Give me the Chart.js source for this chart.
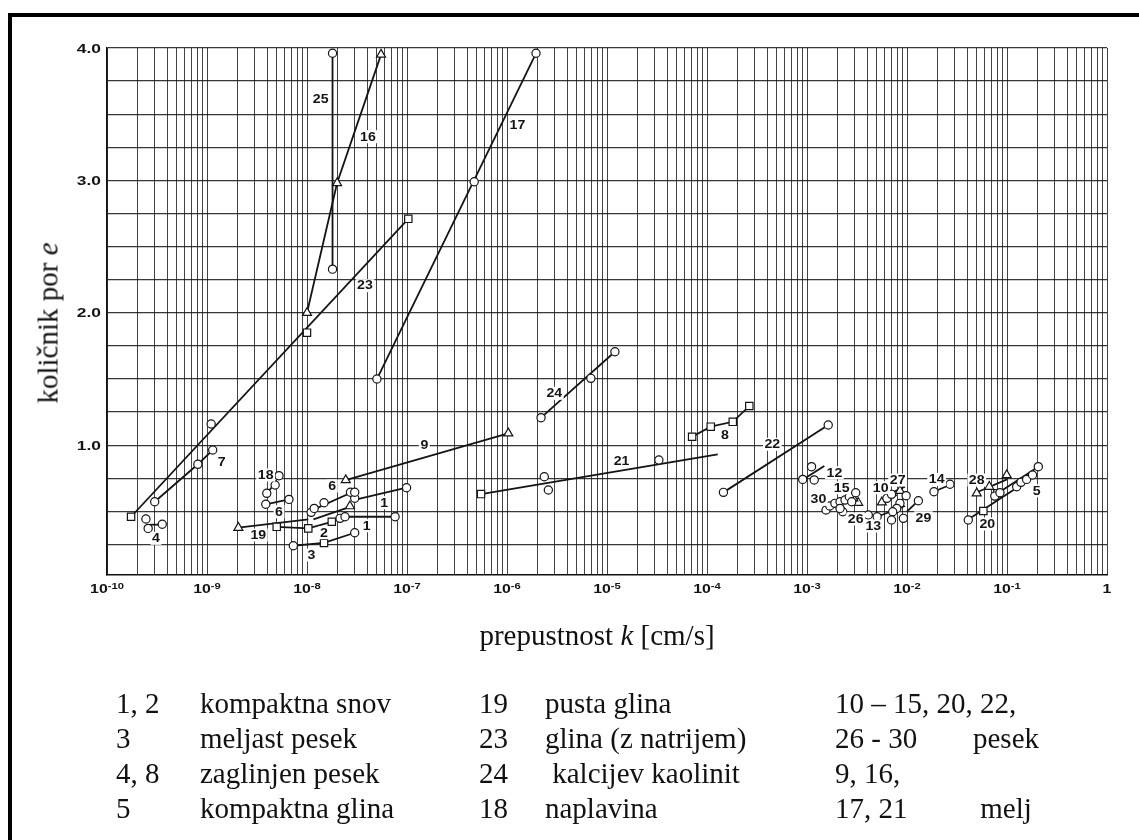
<!DOCTYPE html>
<html>
<head>
<meta charset="utf-8">
<script src="https://cdn.jsdelivr.net/npm/chart.js@4.4.1/dist/chart.umd.min.js"></script>
<style>
  html, body { margin: 0; padding: 0; background: #fff; }
  #page { position: relative; width: 1139px; height: 840px; overflow: hidden; background: #fff; }
  #chartBox { position: absolute; left: 0; top: 0; width: 1139px; height: 840px; }
  .rule { position: absolute; background: #000; }
  .serif { position: absolute; font-family: "Liberation Serif", "Times New Roman", serif; font-size: 29px;
           line-height: 29px; color: #111; white-space: pre; }
</style>
</head>
<body>
<div id="page">
  <div id="chartBox"><canvas id="c"></canvas></div>
  <div class="rule" style="left:8px;top:13px;width:1131px;height:4px"></div>
  <div class="rule" style="left:8px;top:13px;width:4px;height:827px"></div>
  <div id="yTitle" class="serif" style="left:48px;top:323px;transform:translate(-50%,-50%) rotate(-90deg)">količnik por <i>e</i></div>
  <div id="xTitle" class="serif" style="left:597px;top:621px;transform:translateX(-50%)">prepustnost <i>k</i> [cm/s]</div>
</div>
<script>
// ---- axes ----
const decades = [-10, -9, -8, -7, -6, -5, -4, -3, -2, -1, 0];   // x tick labels 10^n
const mantissas = [1, 2, 3, 4, 5, 6, 7, 8, 9];                   // log grid lines per decade
const yGrid = [0.25, 0.5, 0.75, 1.0, 1.25, 1.5, 1.75, 2.0, 2.25, 2.5, 2.75, 3.0, 3.25, 3.5, 3.75, 4.0];
const yLabels = ['1.0', '2.0', '3.0', '4.0'];
const yLabelValues = [1, 2, 3, 4];

// ---- measured curves: [k (cm/s), e] ----
const c25 = [[1.8e-8, 3.96], [1.8e-8, 2.33]];
const c16 = [[1.0e-8, 2.0], [2.0e-8, 2.98], [5.5e-8, 3.95]];
const c23line = [[1.74e-10, 0.46], [1.03e-7, 2.71]];
const c23sq = [[1.74e-10, 0.46], [1.0e-8, 1.85], [1.03e-7, 2.71]];
const c23o = [[1.1e-9, 1.16]];
const c17 = [[5.0e-8, 1.50], [4.7e-7, 2.99], [1.95e-6, 3.96]];
const c7 = [[3.0e-10, 0.573], [8.1e-10, 0.856], [1.14e-9, 0.964]];
const c4line = [[2.69e-10, 0.40], [3.39e-10, 0.40]];
const c4o = [[2.45e-10, 0.443], [2.58e-10, 0.372], [3.57e-10, 0.403]];
const c18a = [[4.2e-9, 0.66], [4.9e-9, 0.72]];
const c18b = [[3.87e-9, 0.554], [6.6e-9, 0.591]];
const c18o = [[5.25e-9, 0.77], [4.8e-9, 0.70], [3.96e-9, 0.637], [3.87e-9, 0.554], [6.6e-9, 0.591]];
const c6line = [[1.13e-8, 0.51], [2.9e-8, 0.649]];
const c6o = [[1.1e-8, 0.493], [1.18e-8, 0.523], [1.48e-8, 0.566], [2.72e-8, 0.645], [3.0e-8, 0.645]];
const c6bline = [[1.16e-8, 0.44], [2.69e-8, 0.535]];
const c6btri = [[2.69e-8, 0.54]];
const c1line = [[3.14e-8, 0.591], [9.9e-8, 0.679]];
const c1o = [[3.0e-8, 0.60], [9.9e-8, 0.679]];
const c1bline = [[2.4e-8, 0.46], [7.6e-8, 0.46]];
const c1bo = [[2.14e-8, 0.448], [2.4e-8, 0.46], [7.6e-8, 0.46]];
const c19line = [[2.06e-9, 0.377], [1.03e-8, 0.44]];
const c19tri = [[2.06e-9, 0.377]];
const c2 = [[4.98e-9, 0.384], [1.03e-8, 0.372], [1.77e-8, 0.422]];
const c3line = [[7.3e-9, 0.241], [1.48e-8, 0.262], [3.0e-8, 0.339]];
const c3o = [[7.3e-9, 0.241], [3.0e-8, 0.339]];
const c3sq = [[1.48e-8, 0.262]];
const c9 = [[2.44e-8, 0.737], [1.03e-6, 1.09]];
const c24 = [[2.19e-6, 1.208], [6.9e-6, 1.505], [1.2e-5, 1.706]];
const c21line = [[5.5e-7, 0.631], [1.28e-4, 0.931]];
const c21sq = [[5.5e-7, 0.631]];
const c21o = [[2.36e-6, 0.762], [2.59e-6, 0.662], [3.3e-5, 0.888]];
const c8 = [[7.1e-5, 1.064], [1.09e-4, 1.14], [1.81e-4, 1.177], [2.65e-4, 1.296]];
const c22 = [[1.46e-4, 0.644], [1.63e-3, 1.153]];
const c12line = [[9.55e-4, 0.75], [1.49e-3, 0.843]];
const c12o = [[9.06e-4, 0.742], [1.11e-3, 0.838], [1.18e-3, 0.738]];
const c14line = [[2.0e-2, 0.66], [2.5e-2, 0.69]];
const c14o = [[1.86e-2, 0.649], [2.69e-2, 0.705]];
const c30line = [[1.63e-3, 0.523], [3.16e-3, 0.637]];
const c15line = [[1.75e-3, 0.548], [2.9e-3, 0.585]];
const c15o = [[1.55e-3, 0.511], [1.69e-3, 0.541], [1.9e-3, 0.561], [2.14e-3, 0.573], [2.4e-3, 0.586],
              [2.65e-3, 0.611], [3.07e-3, 0.641], [2.8e-3, 0.573], [2.28e-3, 0.498], [2.14e-3, 0.523]];
const c15tri = [[3.25e-3, 0.566], [2.9e-3, 0.60]];
const c13line = [[5.03e-3, 0.46], [9.55e-3, 0.541]];
const c10line = [[5.8e-3, 0.573], [7.9e-3, 0.624]];
const c27line = [[6.8e-3, 0.637], [9.55e-3, 0.687]];
const c26line = [[8.2e-3, 0.498], [9.55e-3, 0.637]];
const c29line = [[9.98e-3, 0.498], [1.3e-2, 0.581]];
const c10o = [[4.1e-3, 0.473], [5.03e-3, 0.46], [6.3e-3, 0.599], [7.0e-3, 0.629], [9.8e-3, 0.619],
              [8.5e-3, 0.561], [7.9e-3, 0.523], [7.2e-3, 0.498], [9.2e-3, 0.448], [7.0e-3, 0.435], [1.3e-2, 0.581]];
const c10tri = [[5.6e-3, 0.569], [8.5e-3, 0.656]];
const c28line = [[5.16e-2, 0.649], [0.1, 0.742]];
const c28tri = [[4.98e-2, 0.637], [6.65e-2, 0.687], [9.93e-2, 0.775]];
const c5line = [[7.6e-2, 0.624], [0.2056, 0.838]];
const c5o = [[0.125, 0.687], [0.138, 0.72], [0.157, 0.742], [0.18, 0.775], [0.2056, 0.838]];
const c20line = [[4.27e-2, 0.448], [0.13, 0.687]];
const c20o = [[4.1e-2, 0.435], [7.55e-2, 0.616], [8.5e-2, 0.641]];
const c20sq = [[5.8e-2, 0.503], [8.0e-2, 0.637]];

// ---- curve numbers: [text, k, e] ----
const curveLabels = [
  ['25', 1.37e-8, 3.615], ['16', 4.07e-8, 3.33], ['17', 1.27e-6, 3.418], ['23', 3.8e-8, 2.205],
  ['7', 1.4e-9, 0.873], ['4', 3.09e-10, 0.297], ['18', 3.86e-9, 0.775], ['6', 1.79e-8, 0.692],
  ['6', 5.25e-9, 0.498], ['1', 5.93e-8, 0.566], ['1', 3.95e-8, 0.392], ['19', 3.26e-9, 0.322],
  ['2', 1.48e-8, 0.339], ['3', 1.11e-8, 0.171], ['9', 1.49e-7, 1.0], ['24', 2.97e-6, 1.392],
  ['21', 1.4e-5, 0.881], ['8', 1.51e-4, 1.077], ['22', 4.5e-4, 1.007], ['12', 1.88e-3, 0.792],
  ['15', 2.22e-3, 0.679], ['30', 1.3e-3, 0.591], ['26', 3.07e-3, 0.443], ['13', 4.6e-3, 0.39],
  ['10', 5.46e-3, 0.679], ['27', 8.07e-3, 0.737], ['29', 1.46e-2, 0.452], ['14', 1.98e-2, 0.742],
  ['28', 4.98e-2, 0.737], ['5', 0.198, 0.656], ['20', 6.35e-2, 0.405]
];

// ---- key below the chart ----
const keyCodes = [['1, 2', '3', '4, 8', '5'], ['19', '23', '24', '18'], ['10 – 15, 20, 22,', '26 - 30', '9, 16,', '17, 21']];
const keyNames = [['kompaktna snov', 'meljast pesek', 'zaglinjen pesek', 'kompaktna glina'],
                  ['pusta glina', 'glina (z natrijem)', ' kalcijev kaolinit', 'naplavina'],
                  ['', 'pesek', '', ' melj']];
const keyCodeX = [116, 479, 835];
const keyNameX = [200, 545, 973];
const keyBaselines = [713, 748, 783, 818];

const page = document.getElementById('page');
keyCodes.forEach((col, ci) => {
  col.forEach((txt, ri) => {
    const add = (t, x) => {
      if (!t) return;
      const d = document.createElement('div');
      d.className = 'serif';
      d.textContent = t;
      d.style.left = x + 'px';
      d.style.top = (keyBaselines[ri] - 24) + 'px';
      page.appendChild(d);
    };
    add(txt, keyCodeX[ci]);
    add(keyNames[ci][ri], keyNameX[ci]);
  });
});

// ---- datasets ----
const pts = a => a.map(p => ({ x: p[0], y: p[1] }));
const INK = '#141414';
const lineSet = a => ({ data: pts(a), showLine: true, borderColor: INK, borderWidth: 1.8,
  pointRadius: 0, pointHoverRadius: 0, fill: false, tension: 0, order: 2 });
const markSet = (a, style) => ({ data: pts(a), showLine: false, pointStyle: style,
  pointRadius: style === 'circle' ? 4.1 : 5.2, pointBorderWidth: 1.2, pointBorderColor: INK,
  pointBackgroundColor: '#fff', order: 1 });

const datasets = [
  lineSet(c25), markSet(c25, 'circle'),
  lineSet(c16), markSet(c16, 'triangle'),
  lineSet(c23line), markSet(c23sq, 'rect'), markSet(c23o, 'circle'),
  lineSet([c17[0], c17[2]]), markSet(c17, 'circle'),
  lineSet(c7), markSet(c7, 'circle'),
  lineSet(c4line), markSet(c4o, 'circle'),
  lineSet(c18a), lineSet(c18b), markSet(c18o, 'circle'),
  lineSet(c6line), markSet(c6o, 'circle'),
  lineSet(c6bline), markSet(c6btri, 'triangle'),
  lineSet(c1line), markSet(c1o, 'circle'),
  lineSet(c1bline), markSet(c1bo, 'circle'),
  lineSet(c19line), markSet(c19tri, 'triangle'),
  lineSet(c2), markSet(c2, 'rect'),
  lineSet(c3line), markSet(c3o, 'circle'), markSet(c3sq, 'rect'),
  lineSet(c9), markSet(c9, 'triangle'),
  lineSet([c24[0], c24[2]]), markSet(c24, 'circle'),
  lineSet(c21line), markSet(c21sq, 'rect'), markSet(c21o, 'circle'),
  lineSet(c8), markSet(c8, 'rect'),
  lineSet(c22), markSet(c22, 'circle'),
  lineSet(c12line), markSet(c12o, 'circle'),
  lineSet(c14line), markSet(c14o, 'circle'),
  lineSet(c30line), lineSet(c15line), markSet(c15o, 'circle'), markSet(c15tri, 'triangle'),
  lineSet(c13line), lineSet(c10line), lineSet(c27line), lineSet(c26line), lineSet(c29line),
  markSet(c10o, 'circle'), markSet(c10tri, 'triangle'),
  lineSet(c28line), markSet(c28tri, 'triangle'),
  lineSet(c5line), markSet(c5o, 'circle'),
  lineSet(c20line), markSet(c20o, 'circle'), markSet(c20sq, 'rect')
];

const xGrid = [];
decades.forEach(d => {
  if (d === 0) { xGrid.push(1); return; }
  mantissas.forEach(m => xGrid.push(m * Math.pow(10, d)));
});

const SANS = '"Liberation Sans", Arial, Helvetica, sans-serif';

// draws text widened horizontally by the factor sx
function wideText(ctx, text, x, y, align, sx) {
  const w = ctx.measureText(text).width * sx;
  let left = x;
  if (align === 'center') left = x - w / 2;
  else if (align === 'right') left = x - w;
  ctx.save();
  ctx.translate(left, y);
  ctx.scale(sx, 1);
  ctx.textAlign = 'left';
  ctx.fillText(text, 0, 0);
  ctx.restore();
  return w;
}

const annotate = {
  id: 'annotate',
  afterDatasetsDraw(chart) {
    const ctx = chart.ctx;
    const xs = chart.scales.x, ys = chart.scales.y;
    const sx = 1.18;
    ctx.save();
    ctx.textBaseline = 'middle';
    ctx.font = 'bold 12px ' + SANS;
    curveLabels.forEach(([t, k, e]) => {
      const px = xs.getPixelForValue(k), py = ys.getPixelForValue(e);
      const w = ctx.measureText(t).width * sx;
      ctx.fillStyle = '#fff';
      ctx.fillRect(px - w / 2 - 1.5, py - 6.5, w + 3, 13);
      ctx.fillStyle = INK;
      wideText(ctx, t, px, py + 0.5, 'center', sx);
    });
    ctx.restore();
  },
  afterDraw(chart) {
    const ctx = chart.ctx;
    const xs = chart.scales.x, ys = chart.scales.y;
    ctx.save();
    ctx.fillStyle = INK;
    ctx.textBaseline = 'alphabetic';
    // y tick labels
    ctx.font = 'bold 12px ' + SANS;
    yLabelValues.forEach((v, i) => {
      wideText(ctx, yLabels[i], xs.left - 6, ys.getPixelForValue(v) + 4.5, 'right', 1.45);
    });
    // x tick labels as powers of ten
    const base = ys.bottom + 18;
    const sx = 1.32;
    decades.forEach(d => {
      const px = xs.getPixelForValue(Math.pow(10, d));
      ctx.font = 'bold 12px ' + SANS;
      if (d === 0) {
        wideText(ctx, '1', px, base, 'center', sx);
        return;
      }
      const wMain = ctx.measureText('10').width * sx;
      const sup = '-' + Math.abs(d);
      ctx.font = 'bold 8.5px ' + SANS;
      const wSup = ctx.measureText(sup).width * sx;
      const left = px - (wMain + wSup) / 2;
      ctx.font = 'bold 12px ' + SANS;
      wideText(ctx, '10', left, base, 'left', sx);
      ctx.font = 'bold 8.5px ' + SANS;
      wideText(ctx, sup, left + wMain, base - 4.5, 'left', sx);
    });
    ctx.restore();
  }
};

new Chart(document.getElementById('c'), {
  type: 'scatter',
  data: { datasets },
  options: {
    responsive: true,
    maintainAspectRatio: false,
    animation: false,
    events: [],
    layout: { padding: { left: 107, top: 48, right: 32, bottom: 265 } },
    plugins: { legend: { display: false }, tooltip: { enabled: false } },
    scales: {
      x: {
        type: 'logarithmic', min: 1e-10, max: 1,
        afterBuildTicks: s => { s.ticks = xGrid.map(v => ({ value: v })); },
        ticks: { display: false },
        grid: { color: 'rgba(20,20,20,0.8)', lineWidth: 1, drawTicks: false },
        border: { display: true, color: '#111', width: 1.6 }
      },
      y: {
        type: 'linear', min: 0.02, max: 4.0,
        afterBuildTicks: s => { s.ticks = yGrid.map(v => ({ value: v })); },
        ticks: { display: false },
        grid: { color: 'rgba(20,20,20,0.85)', lineWidth: 1.3, drawTicks: false },
        border: { display: true, color: '#111', width: 1.6 }
      }
    }
  },
  plugins: [annotate]
});
</script>
</body>
</html>
